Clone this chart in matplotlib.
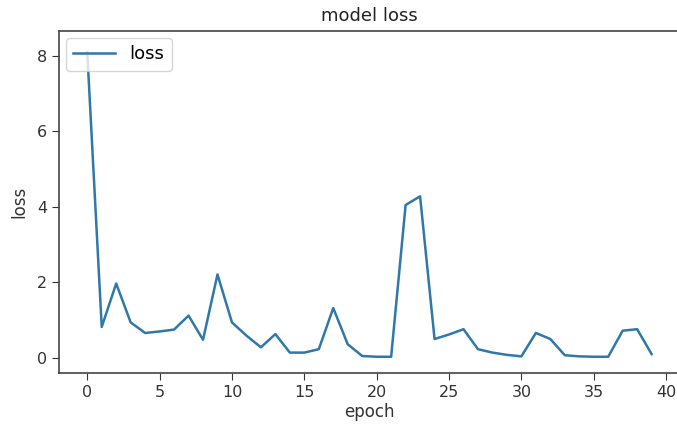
import matplotlib
matplotlib.use('Agg')
import matplotlib.pyplot as plt

# loss por epoch
epochs = list(range(40))
loss = [8.1, 0.82, 1.97, 0.94, 0.66, 0.70, 0.75, 1.12, 0.48, 2.21,
        0.94, 0.59, 0.28, 0.63, 0.14, 0.14, 0.23, 1.32, 0.36, 0.05,
        0.03, 0.03, 4.05, 4.28, 0.50, 0.62, 0.76, 0.23, 0.14, 0.08,
        0.04, 0.66, 0.50, 0.07, 0.04, 0.03, 0.03, 0.72, 0.76, 0.10]

fig = plt.figure(figsize=(6.77, 4.25), dpi=100)
ax = fig.add_axes([0.0872, 0.1224, 0.917, 0.8047])

ax.plot(epochs, loss, color='#2f78a8', linewidth=1.8, label='loss')
ax.set_xlim(-1.95, 40.95)
ax.set_ylim(-0.40, 8.66)
ax.set_xticks([0, 5, 10, 15, 20, 25, 30, 35, 40])
ax.set_yticks([0, 2, 4, 6, 8])
ax.tick_params(labelsize=11.5, colors='#333333', length=5, pad=3.5)
ax.set_title('model loss', fontsize=13, color='#222222', pad=7)
ax.set_xlabel('epoch', fontsize=12, color='#333333', labelpad=2)
ax.set_ylabel('loss', fontsize=12, color='#333333', labelpad=6)
ax.legend(loc='upper left', fontsize=13, borderaxespad=0.4, handlelength=2.3)
for s in ax.spines.values():
    s.set_color('#444444')
    s.set_linewidth(1.2)

fig.savefig('out.png', dpi=100)
